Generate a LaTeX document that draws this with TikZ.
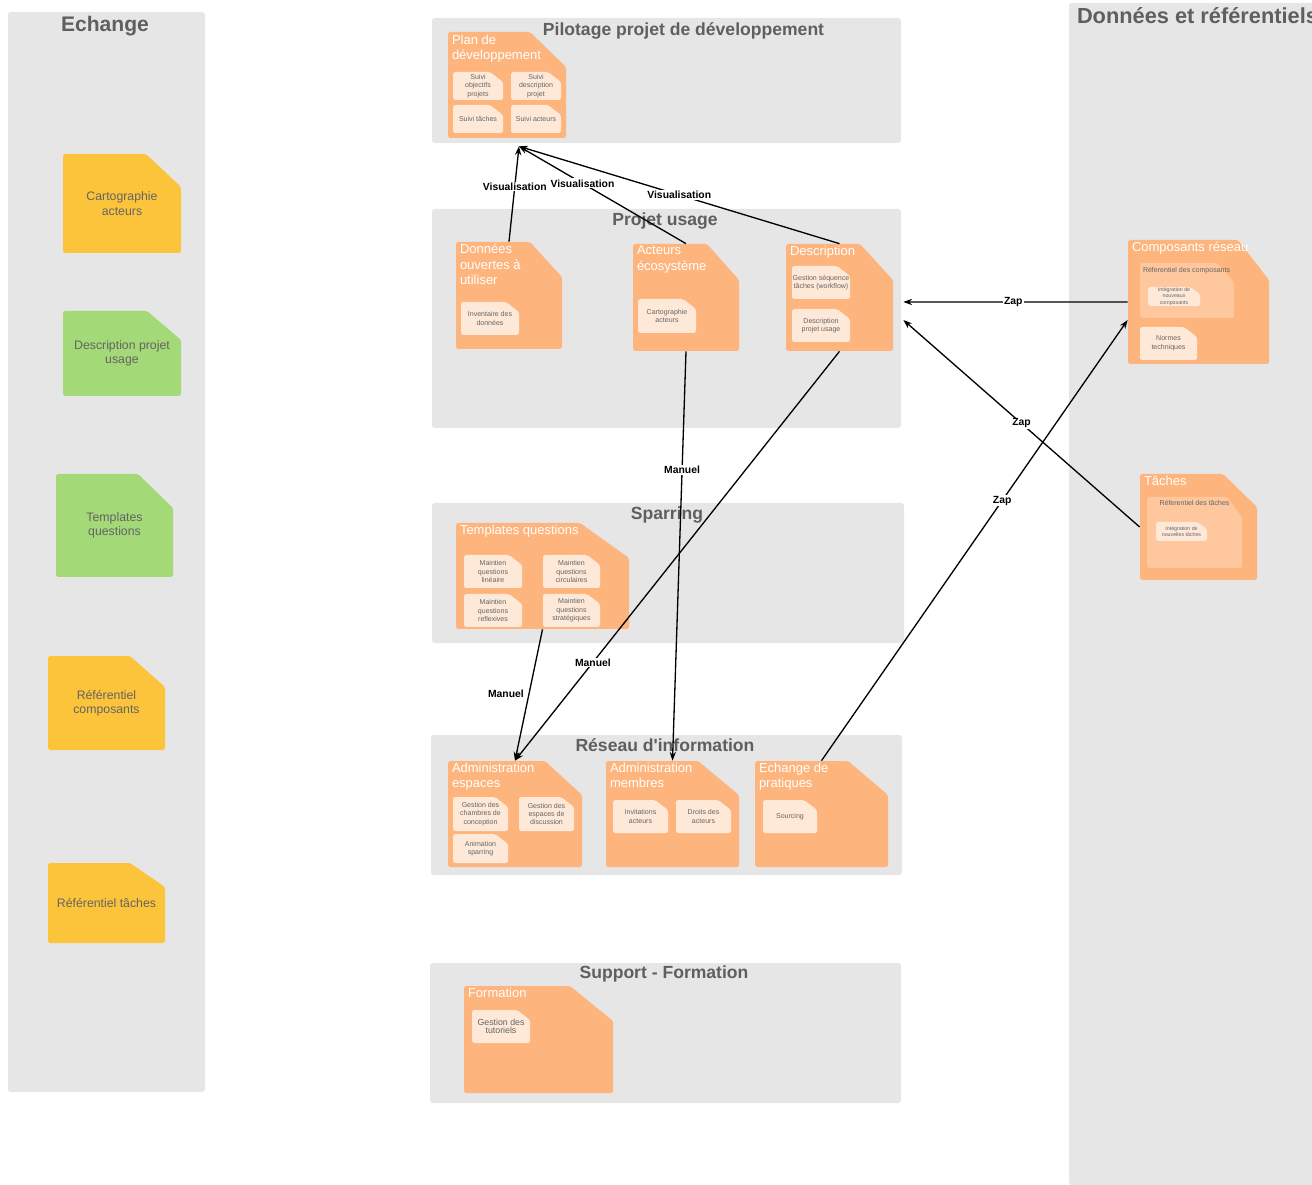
\documentclass[tikz,border=0pt]{standalone}
\usepackage{fontspec}
\setmainfont{Liberation Sans}
\usetikzlibrary{calc,arrows.meta,positioning,fit}
\definecolor{panelGray}{RGB}{230,230,230}
\definecolor{titleGray}{RGB}{95,95,95}
\definecolor{textGray}{RGB}{100,100,100}
\definecolor{cardOrange}{RGB}{254,180,125}
\definecolor{cardLight}{RGB}{254,233,217}
\definecolor{cardMid}{RGB}{255,199,157}
\definecolor{noteYellow}{RGB}{252,196,58}
\definecolor{noteGreen}{RGB}{163,217,119}

\newcommand{\fiche}[8]{%
  \fill[#2, rounded corners=1pt] (#3,#4) -- (#5-#7,#4) -- (#5,#4+#8) -- (#5,#6) -- (#3,#6) -- cycle;
  \node[fit={(#3,#4) (#5,#6)}, inner sep=0pt] (#1) {};}
\newcommand{\sousfiche}[6]{%
  \fiche{#1}{cardLight}{#2}{#3}{#4}{#5}{13}{10}
  \node[subtxt] (#1-t) at (#1) {#6};}
\newcommand{\couloir}[5]{%
  \fill[panelGray, rounded corners=1.5pt] (#2,#3) rectangle (#4,#5);
  \node[fit={(#2,#3) (#4,#5)}, inner sep=0pt] (#1) {};}

\begin{document}
\begin{tikzpicture}[x=0.02cm, y=-0.02cm,
  cardtitle/.style={anchor=north west, inner sep=0pt, text=white, align=left, font=\fontsize{7.4}{8.8}\selectfont},
  subtxt/.style={inner sep=0pt, text=textGray, align=center, font=\fontsize{4}{4.8}\selectfont},
  notetxt/.style={inner sep=0pt, text=textGray, align=center, font=\fontsize{7}{8.2}\selectfont},
  lanetitle/.style={anchor=base, inner sep=0pt, text=titleGray, font=\bfseries\fontsize{10}{12}\selectfont},
  reftxt/.style={anchor=north west, inner sep=0pt, text=textGray, font=\fontsize{4}{4.8}\selectfont},
  fleche/.style={line width=0.75pt, black, -{Stealth[length=5pt,width=3.6pt]}},
  lbl/.style={fill=white, inner sep=0.6pt, font=\bfseries\fontsize{5.9}{7}\selectfont}]
\useasboundingbox (0,0) rectangle (1312,1185);
\clip (0,0) rectangle (1312,1185);

\couloir{echange}{8}{12}{205}{1092}
\node[lanetitle, font=\bfseries\fontsize{12}{14}\selectfont] (echange-t) at ($(echange.north)+(-1.5,20)$) {Echange};
\couloir{referentiels}{1069}{3}{1340}{1185}
\node[lanetitle, anchor=base west, font=\bfseries\fontsize{12.4}{14}\selectfont] (referentiels-t) at ($(referentiels.north west)+(8,21)$) {Données et référentiels};
\couloir{pilotage}{432}{18}{901}{143}
\node[lanetitle] (pilotage-t) at ($(pilotage.north)+(17,18)$) {Pilotage projet de développement};
\couloir{usage}{432}{209}{901}{428}
\node[lanetitle] (usage-t) at ($(usage.north)+(-1.5,17)$) {Projet usage};
\couloir{sparring}{432}{503}{904}{643}
\node[lanetitle] (sparring-t) at ($(sparring.north)+(-1,17)$) {Sparring};
\couloir{reseau}{431}{735}{902}{875}
\node[lanetitle] (reseau-t) at ($(reseau.north)+(-1.5,17)$) {Réseau d\textquotesingle information};
\couloir{support}{430}{963}{901}{1103}
\node[lanetitle] (support-t) at ($(support.north)+(-1.5,16)$) {Support - Formation};

\fiche{cartonote}{noteYellow}{63}{154}{181}{253}{35}{33}
\node[notetxt] (cartonote-t) at (cartonote) {Cartographie\\acteurs};
\fiche{descnote}{noteGreen}{63}{311}{181}{396}{34}{29}
\node[notetxt] (descnote-t) at (descnote) {Description projet\\usage};
\fiche{templnote}{noteGreen}{56}{474}{173}{577}{35}{34}
\node[notetxt] (templnote-t) at (templnote) {Templates\\questions};
\fiche{refcompnote}{noteYellow}{48}{656}{165}{750}{35}{31}
\node[notetxt] (refcompnote-t) at (refcompnote) {Référentiel\\composants};
\fiche{reftachnote}{noteYellow}{48}{863}{165}{943}{35}{24}
\node[notetxt] (reftachnote-t) at (reftachnote) {Référentiel tâches};

\fiche{plan}{cardOrange}{448}{32}{566}{138}{36}{35}
\node[cardtitle] (plan-t) at ($(plan.north west)+(4,3)$) {Plan de\\développement};
\sousfiche{suiviobj}{453}{72}{503}{100}{Suivi\\objectifs\\projets}
\sousfiche{suividesc}{511}{72}{561}{100}{Suivi\\description\\projet}
\sousfiche{suivitach}{453}{105}{503}{133}{Suivi tâches}
\sousfiche{suiviact}{511}{105}{561}{133}{Suivi acteurs}

\fiche{ouvertes}{cardOrange}{456}{242}{562}{349}{32}{35}
\node[cardtitle] (ouvertes-t) at ($(ouvertes.north west)+(4,2)$) {Données\\ouvertes à\\utiliser};
\sousfiche{inventaire}{461}{302}{519}{335}{Inventaire des\\données}
\fiche{acteurs}{cardOrange}{633}{244}{739}{351}{32}{36}
\node[cardtitle] (acteurs-t) at ($(acteurs.north west)+(4,2)$) {Acteurs\\écosystème};
\sousfiche{cartoact}{638}{299}{696}{333}{Cartographie\\acteurs}
\fiche{description}{cardOrange}{786}{244}{893}{351}{33}{36}
\node[cardtitle] (description-t) at ($(description.north west)+(4,2)$) {Description};
\sousfiche{sequence}{792}{266}{850}{299}{Gestion séquence\\tâches (workflow)}
\sousfiche{descusage}{792}{309}{850}{342}{Description\\projet usage}

\fiche{templates}{cardOrange}{456}{523}{629}{629}{49}{35}
\node[cardtitle] (templates-t) at ($(templates.north west)+(4,2)$) {Templates questions};
\sousfiche{lineaire}{464}{555}{522}{588}{Maintien\\questions\\linéaire}
\sousfiche{circulaire}{543}{555}{600}{588}{Maintien\\questions\\circulaires}
\sousfiche{reflexive}{464}{594}{522}{627}{Maintien\\questions\\reflexives}
\sousfiche{strategique}{543}{594}{600}{627}{Maintien\\questions\\stratégiques}

\fiche{admespaces}{cardOrange}{448}{761}{582}{867}{37}{34}
\node[cardtitle] (admespaces-t) at ($(admespaces.north west)+(4,2)$) {Administration\\espaces};
\sousfiche{chambres}{453}{797}{508}{831}{Gestion des\\chambres de\\conception}
\sousfiche{discussion}{519}{797}{574}{831}{Gestion des\\espaces de\\discussion}
\sousfiche{animation}{453}{834}{508}{863}{Animation\\sparring}
\fiche{admmembres}{cardOrange}{606}{761}{739}{867}{41}{34}
\node[cardtitle] (admmembres-t) at ($(admmembres.north west)+(4,2)$) {Administration\\membres};
\sousfiche{invitations}{613}{800}{668}{833}{Invitations\\acteurs}
\sousfiche{droits}{676}{800}{731}{833}{Droits des\\acteurs}
\fiche{pratiques}{cardOrange}{755}{761}{888}{867}{40}{34}
\node[cardtitle] (pratiques-t) at ($(pratiques.north west)+(4,2)$) {Echange de\\pratiques};
\sousfiche{sourcing}{763}{800}{817}{833}{Sourcing}

\fiche{formation}{cardOrange}{464}{986}{613}{1093}{43}{35}
\node[cardtitle] (formation-t) at ($(formation.north west)+(4,2)$) {Formation};
\sousfiche{tutoriels}{472}{1010}{530}{1043}{\fontsize{5}{6}\selectfont Gestion des\\\fontsize{5}{6}\selectfont tutoriels}

\fiche{composants}{cardOrange}{1128}{240}{1269}{364}{31}{40}
\node[cardtitle] (composants-t) at ($(composants.north west)+(4,2)$) {Composants réseau};
\fiche{refcomp}{cardMid}{1140}{263}{1234}{318}{17}{19}
\node[reftxt] (refcomp-t) at ($(refcomp.north west)+(3,4)$) {Réferentiel des composants};
\fiche{integcomp}{cardLight}{1148}{287}{1200}{306}{10}{7}
\node[subtxt, font=\fontsize{3}{3.6}\selectfont] (integcomp-t) at (integcomp) {Intégration de\\nouveaux\\composants};
\sousfiche{normes}{1140}{327}{1197}{360}{Normes\\techniques}

\fiche{taches}{cardOrange}{1140}{474}{1257}{580}{34}{33}
\node[cardtitle] (taches-t) at ($(taches.north west)+(4,2)$) {Tâches};
\fiche{reftach}{cardMid}{1147}{497}{1242}{568}{15}{20}
\node[reftxt, anchor=north] (reftach-t) at ($(reftach.north)+(0,3)$) {Réferentiel des tâches};
\fiche{integtach}{cardLight}{1156}{522}{1207}{541}{10}{7}
\node[subtxt, font=\fontsize{3}{3.6}\selectfont] (integtach-t) at (integtach) {Intégration de\\nouvelles tâches};

\coordinate (pilin) at ($(pilotage.south)+(-147.5,3)$);
\coordinate (usagein1) at ($(usage.east)+(2,-16.5)$);
\coordinate (usagein2) at ($(usage.east)+(2,1.5)$);
\coordinate (compin) at ($(composants.west)+(0,18)$);

\draw[fleche] (ouvertes.north) -- node[lbl, pos=.58] (vis1) {Visualisation} (pilin);
\draw[fleche] (acteurs.north) -- node[lbl, pos=.62] (vis2) {Visualisation} (pilin);
\draw[fleche] (description.north) -- node[lbl, pos=.5] (vis3) {Visualisation} (pilin);
\draw[fleche] (acteurs.south) -- node[lbl, pos=.29] (man1) {Manuel} (admmembres.north);
\draw[fleche] (description.south) -- node[lbl, pos=.76] (man2) {Manuel} (admespaces.north);
\draw[fleche] (templates.south) -- node[lbl, pos=.49, anchor=east, xshift=-2] (man3) {Manuel} (admespaces.north);
\draw[fleche] (composants.west) -- node[lbl, pos=.51] (zap1) {Zap} (usagein1);
\draw[fleche] (taches.west) -- node[lbl, pos=.5] (zap2) {Zap} (usagein2);
\draw[fleche] (pratiques.north) -- node[lbl, pos=.59] (zap3) {Zap} (compin);
\end{tikzpicture}
\end{document}
